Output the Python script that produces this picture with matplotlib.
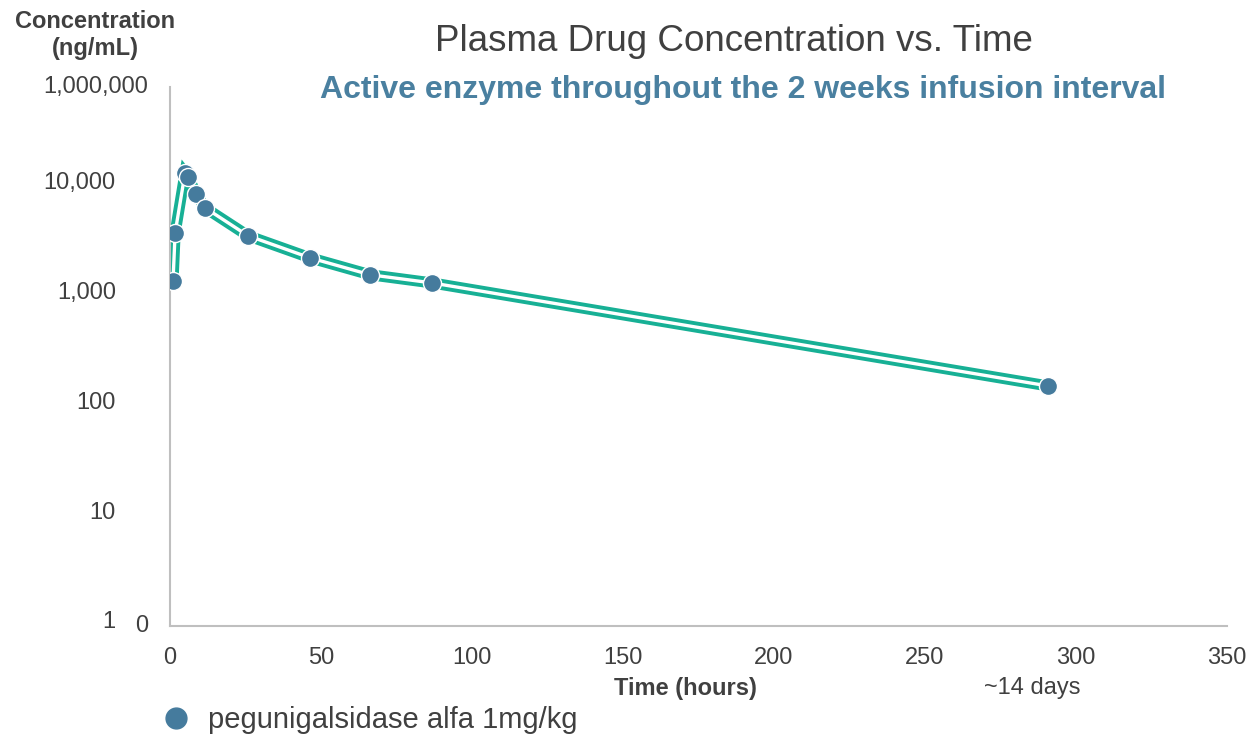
import matplotlib
matplotlib.use("Agg")
import matplotlib.pyplot as plt
import matplotlib.transforms as mtransforms
from matplotlib.lines import Line2D

# data (hours, ng/mL)
time_h = [1.0, 1.7, 5.0, 6.0, 8.6, 11.6, 25.8, 46.4, 66.2, 86.8, 290.7]
conc = [1225, 3350, 11800, 10900, 7600, 5660, 3150, 1980, 1390, 1170, 135]

x_ticks = [0, 50, 100, 150, 200, 250, 300, 350]
y_ticks = [1, 10, 100, 1000, 10000]
y_tick_labels = ["1", "10", "100", "1,000", "10,000"]
y_top = 71800          # axis top, labelled "1,000,000" in the original slide
y_top_label = "1,000,000"
y_bottom = 0.877

series_label = "pegunigalsidase alfa 1mg/kg"
title = "Plasma Drug Concentration vs. Time"
subtitle = "Active enzyme throughout the 2 weeks infusion interval"

TEAL = "#17b095"
MARKER = "#457b9d"
SUB = "#4a80a0"
TXT = "#404040"
AXIS = "#bfbfbf"

plt.rcParams["font.family"] = ["Liberation Sans", "DejaVu Sans"]

fig = plt.figure(figsize=(12.5, 7.34), dpi=100)
ax = fig.add_axes([0.136, 0.147, 0.8456, 0.735])

ax.plot(time_h, conc, color=TEAL, lw=8, solid_joinstyle="miter", zorder=2)
ax.plot(time_h, conc, color="white", lw=2.4, zorder=3)
ax.plot(time_h, conc, ls="none", marker="o", ms=13, mfc=MARKER,
        mec="white", mew=1.0, zorder=4)

ax.set_yscale("log")
ax.set_ylim(y_bottom, y_top)
ax.set_xlim(0, 350)
ax.set_xticks(x_ticks)
ax.set_xticklabels([str(t) for t in x_ticks])
ax.set_yticks(y_ticks)
ax.set_yticklabels(y_tick_labels)
ax.yaxis.set_minor_locator(matplotlib.ticker.NullLocator())
ax.tick_params(length=0, labelsize=17, labelcolor=TXT)
ax.tick_params(axis="y", pad=39)
ax.tick_params(axis="x", pad=15)

for s in ["top", "right"]:
    ax.spines[s].set_visible(False)
for s in ["left", "bottom"]:
    ax.spines[s].set_color(AXIS)
    ax.spines[s].set_linewidth(1.5)

# top label and the "0" at the origin sit closer to the axis
trans = mtransforms.blended_transform_factory(ax.transAxes, ax.transData)
ax.text(-0.0208, y_top, y_top_label, transform=trans, ha="right",
        va="center", fontsize=17, color=TXT)
ax.text(-0.0208, y_bottom, "0", transform=trans, ha="right", va="center",
        fontsize=17, color=TXT)

fig.text(0.076, 0.952, "Concentration\n(ng/mL)", ha="center", va="center",
         fontsize=17, fontweight="bold", color=TXT, linespacing=1.25)
fig.text(0.587, 0.943, title, ha="center", va="center", fontsize=26.5,
         color=TXT)
fig.text(0.594, 0.877, subtitle, ha="center", va="center", fontsize=23,
         fontweight="bold", color=SUB)
fig.text(0.548, 0.062, "Time (hours)", ha="center", va="center", fontsize=17,
         fontweight="bold", color=TXT)
fig.text(0.826, 0.062, "~14 days", ha="center", va="center", fontsize=17,
         color=TXT)

handle = Line2D([], [], ls="none", marker="o", ms=15, mfc=MARKER, mec=MARKER)
fig.legend([handle], [series_label], loc="center left",
           bbox_to_anchor=(0.108, 0.019), frameon=False, fontsize=21,
           handlelength=1.0, handletextpad=0.6, labelcolor=TXT)

fig.savefig("out.png", dpi=100)
